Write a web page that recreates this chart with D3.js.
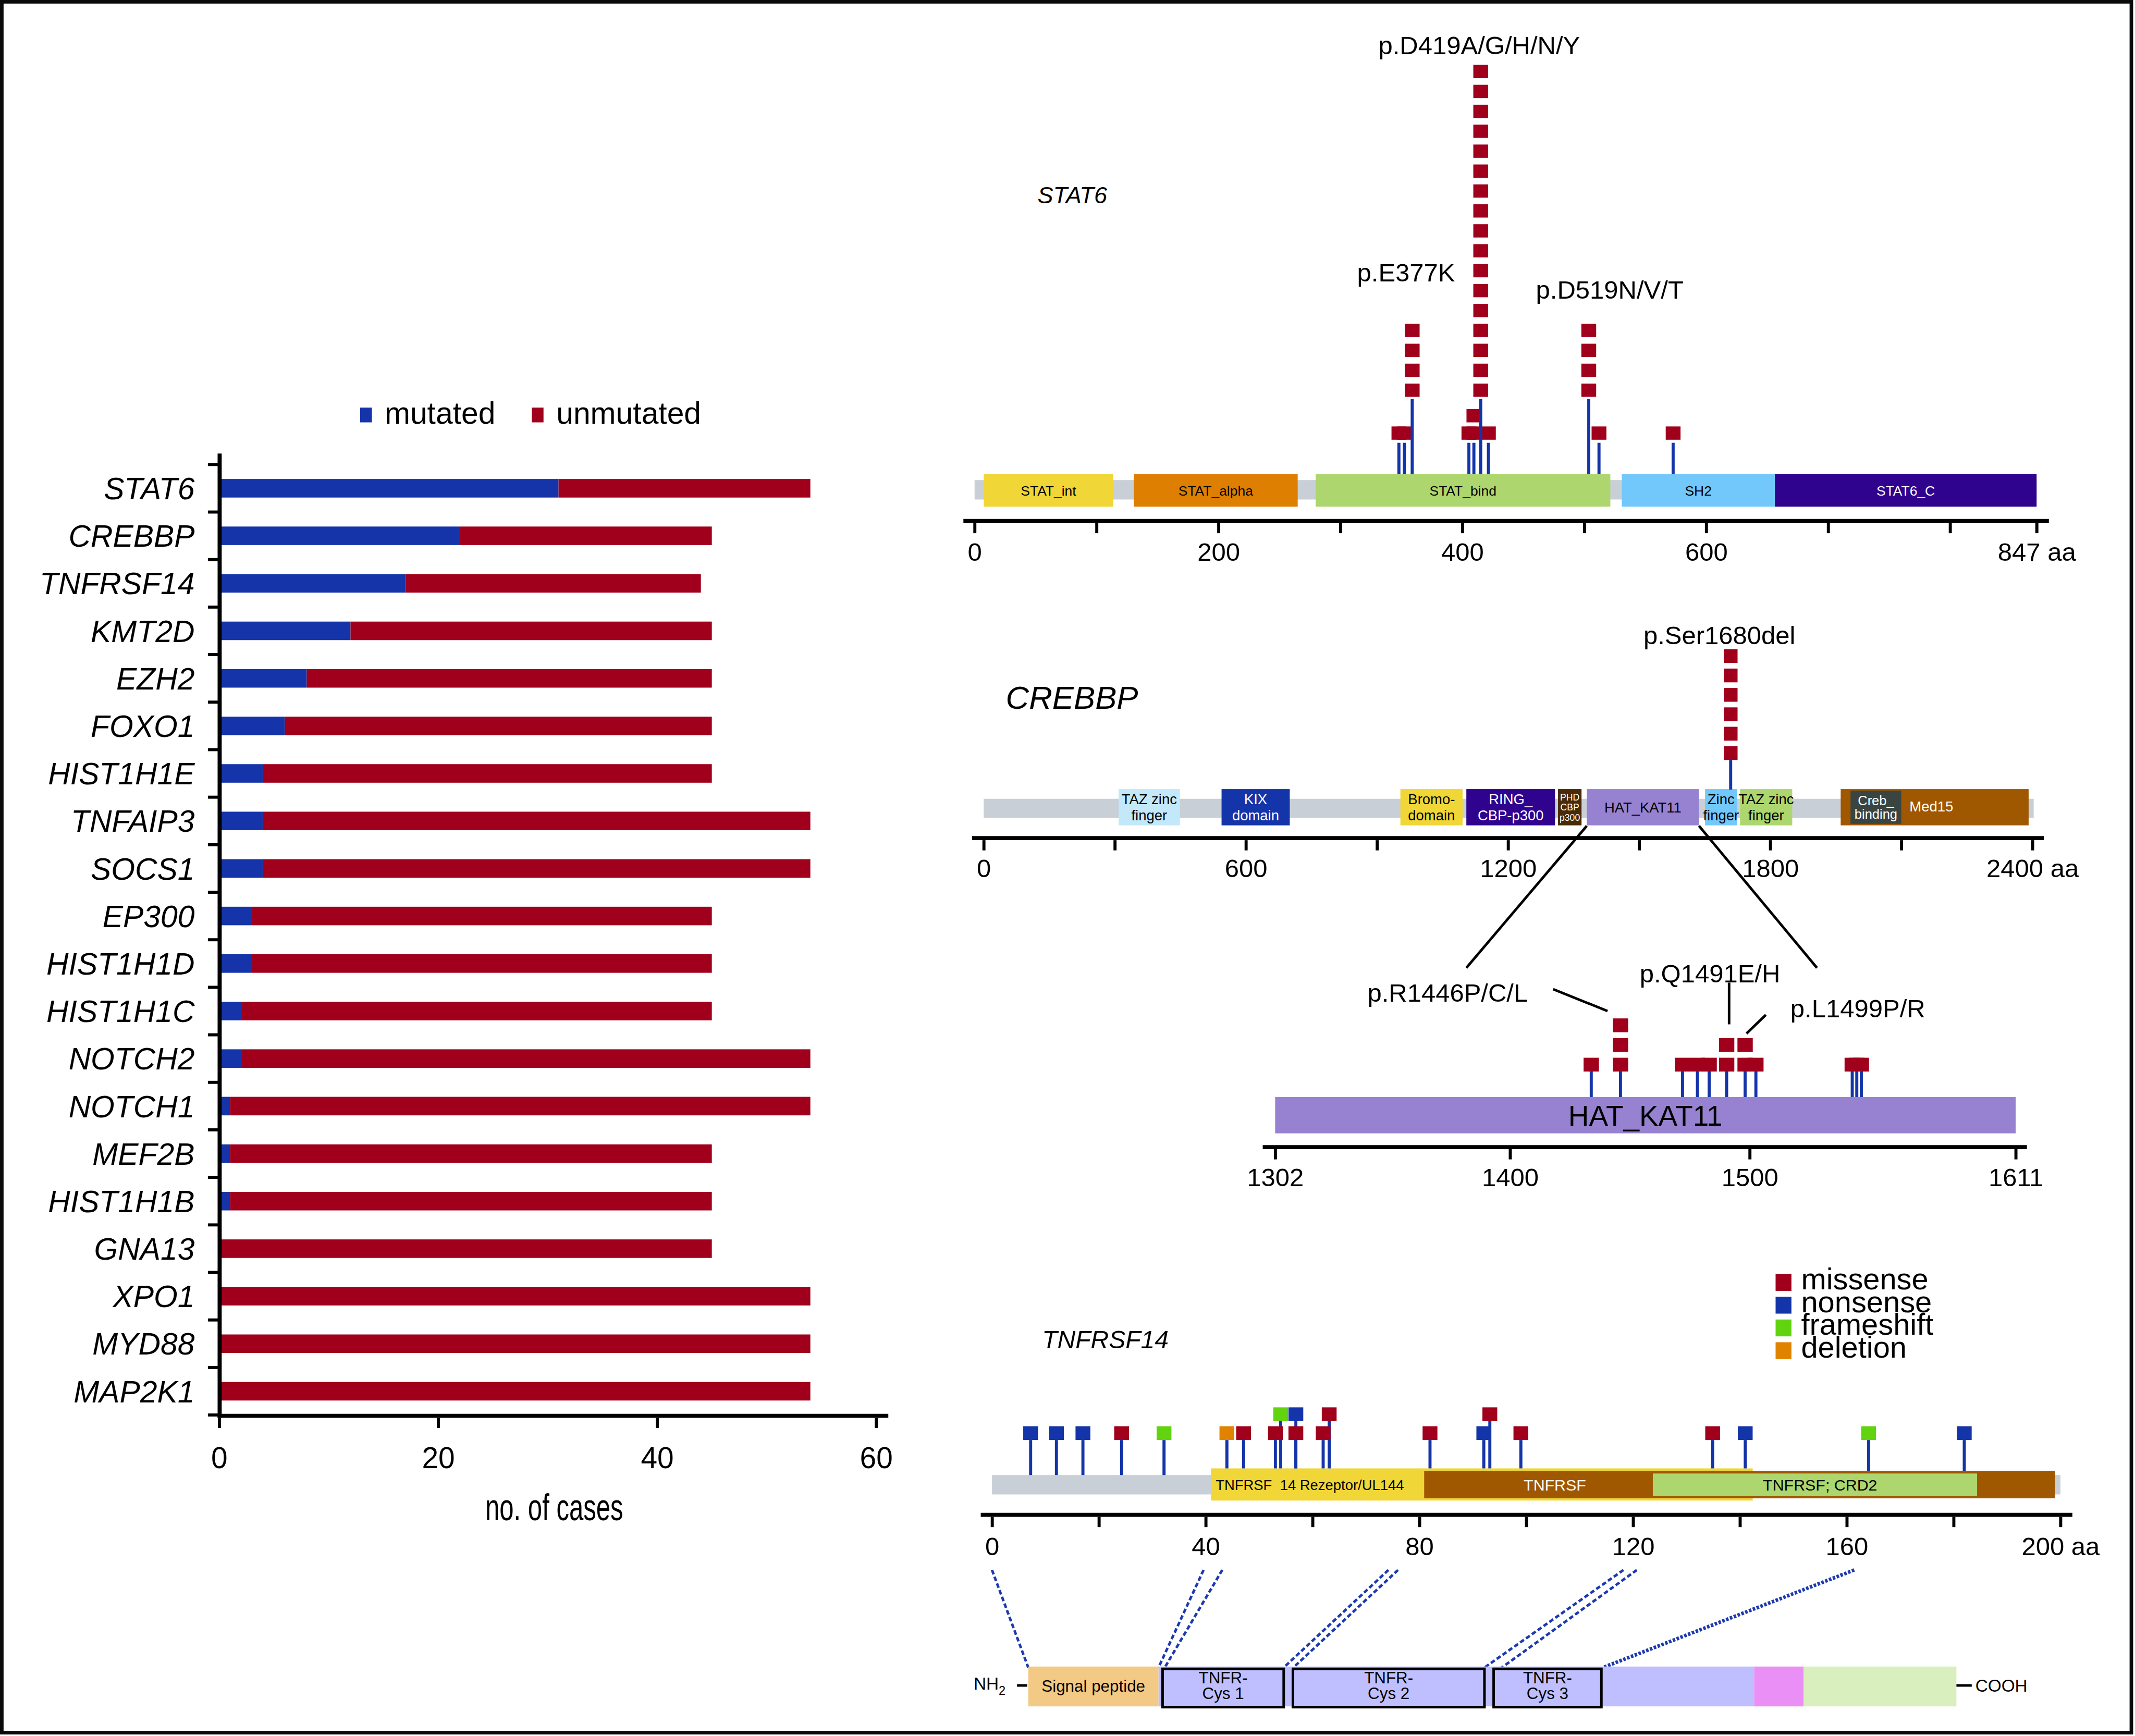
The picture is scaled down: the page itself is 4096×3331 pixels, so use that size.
<!DOCTYPE html>
<html><head><meta charset="utf-8">
<script src="https://cdn.jsdelivr.net/npm/d3@7"></script>
<style>html,body{margin:0;padding:0;background:#fff}svg{display:block}</style>
</head><body><svg id="chart" width="4096" height="3331"></svg>
<script>
// ================= DATA =================
const genes = ["STAT6","CREBBP","TNFRSF14","KMT2D","EZH2","FOXO1","HIST1H1E","TNFAIP3","SOCS1","EP300","HIST1H1D","HIST1H1C","NOTCH2","NOTCH1","MEF2B","HIST1H1B","GNA13","XPO1","MYD88","MAP2K1"];
const mutatedCases   = [31,22,17,12,8,6,4,4,4,3,3,2,2,1,1,1,0,0,0,0];
const unmutatedCases = [23,23,27,33,37,39,41,50,50,42,42,43,52,53,44,44,45,54,54,54];
const caseTicks = [0,20,40,60];
const barSeries = ["mutated","unmutated"];

// STAT6
const stat6DomainNames = ["STAT_int","STAT_alpha","STAT_bind","SH2","STAT6_C"];
const stat6DomainStart = [7.5,130.5,279.7,530.8,656.3];
const stat6DomainEnd   = [113.7,265,521.4,656.3,871];
const stat6AxisEnd = 871;
const stat6Ticks = [0,100,200,300,400,500,600,700,800,871];
const stat6TickLabels = ["0","","200","","400","","600","","","847 aa"];
const stat6MutPos   = [348,352.5,358.9,405.4,409.5,415.1,421.4,503.7,512.1,572.9];
const stat6MutCount = [1,1,4,1,2,17,1,4,1,1];
const stat6Hotspot  = [0,0,1,0,0,1,0,1,0,0];
const stat6HotLabels = ["p.E377K","p.D419A/G/H/N/Y","p.D519N/V/T"];

// CREBBP
const crebbpLength = 2403;
const crebbpDomainLabels = [["TAZ zinc","finger"],["KIX","domain"],["Bromo-","domain"],["RING_","CBP-p300"],["PHD","CBP","p300"],["HAT_KAT11"],["Zinc","finger"],["TAZ zinc","finger"],["Med15"],["Creb_","binding"]];
const crebbpDomainStart = [308.7,544.4,953.7,1104.6,1314.4,1380.3,1650.9,1731,1961.3,1983.8];
const crebbpDomainEnd   = [449,700.5,1096,1307.5,1368.2,1637,1724,1850.4,2391.4,2100];
const crebbpTicks = [0,300,600,900,1200,1500,1800,2100,2400];
const crebbpTickLabels = ["0","","600","","1200","","1800","","2400 aa"];
const crebbpMutPos = [1709.5];
const crebbpMutCount = [6];
const crebbpMutLabel = ["p.Ser1680del"];

// HAT_KAT11 detail
const hatRange = [1302,1611];
const hatTicks = [1302,1400,1500,1611];
const hatMutPos   = [1433.9,1446.1,1472,1478.2,1483.1,1490.4,1498.1,1502.6,1542.8,1544.7,1546.6];
const hatMutCount = [1,3,1,1,1,2,2,1,1,1,1];
const hatMutLabels = ["p.R1446P/C/L","p.Q1491E/H","p.L1499P/R"];

// TNFRSF14
const tnfLength = 200;
const tnfDomainNames = ["TNFRSF  14 Rezeptor/UL144","TNFRSF","TNFRSF; CRD2"];
const tnfDomainStart = [41,80.9,123.7];
const tnfDomainEnd   = [142.4,199,184.4];
const tnfTicks = [0,20,40,60,80,100,120,140,160,180,200];
const tnfTickLabels = ["0","","40","","80","","120","","160","","200 aa"];
const mutTypes = ["missense","nonsense","frameshift","deletion"];
const tnfMutPos   = [7.23,12.06,17.02,24.26,32.2,43.97,47.09,53.05,54.04,56.88,56.88,61.99,63.12,81.99,92.06,93.19,99.0,134.9,141.0,164.1,182.0];
const tnfMutType  = ["nonsense","nonsense","nonsense","missense","frameshift","deletion","missense","missense","frameshift","missense","nonsense","missense","missense","missense","nonsense","missense","missense","missense","nonsense","frameshift","nonsense"];
const tnfMutStack = [1,1,1,1,1,1,1,1,2,1,2,1,2,1,1,2,1,1,1,1,1];

// TNFRSF14 protein schematic (percent of drawn length)
const schemNames = [["Signal peptide"],[],["TNFR-","Cys 1"],["TNFR-","Cys 2"],["TNFR-","Cys 3"],[],[]];
const schemStart = [0,14.03,14.47,28.51,50.14,78.21,83.54];
const schemEnd   = [14.03,78.21,27.52,49.15,61.75,83.54,100];
const linkFromAA  = [0,39.6,43.1,74.2,76,118.2,120.7,161.4];
const linkToPct   = [0,14.03,14.7,27.52,28.56,49.15,51.02,61.9];

// ================= DRAWING =================
const S = 0.98;
const FONT = "'Liberation Sans', Arial, Helvetica, sans-serif";
const BLUE = "#1634A9", RED = "#A0001B", STEM = "#1434A9", BACK = "#C9CFD6";
const svg = d3.select("#chart");
const root = svg.append("g").attr("transform", `scale(${S})`);

function addText(p, x, y, s, size, o = {}) {
  const t = p.append("text").attr("x", x).attr("y", y).text(s)
    .attr("font-family", FONT).attr("font-size", size)
    .attr("fill", o.fill || "#000").attr("text-anchor", o.anchor || "start");
  if (o.italic) t.attr("font-style", "italic");
  if (o.pre) t.style("white-space", "pre");
  return t;
}
function hline(p, x1, x2, y, w, c = "#000") {
  return p.append("line").attr("x1", x1).attr("x2", x2).attr("y1", y).attr("y2", y).attr("stroke", c).attr("stroke-width", w);
}
function seg(p, x1, y1, x2, y2, w, c = "#000") {
  return p.append("line").attr("x1", x1).attr("x2", x2).attr("y1", y1).attr("y2", y2).attr("stroke", c).attr("stroke-width", w);
}
function drawAxis(p, scale, vals, labels, yLine, x0, x1, pad, fs = 50) {
  hline(p, x0, x1, yLine, 8);
  const lab = new Map(vals.map((v, i) => [v, labels[i]]));
  const ax = d3.axisBottom(scale).tickValues(vals).tickFormat(d => lab.get(d))
    .tickSize(20).tickSizeOuter(0).tickPadding(pad);
  const a = p.append("g").attr("transform", `translate(0,${yLine + 4})`).call(ax);
  a.select(".domain").remove();
  a.selectAll(".tick line").attr("stroke", "#000").attr("stroke-width", 6);
  a.selectAll(".tick text").attr("font-family", FONT).attr("font-size", fs).attr("fill", "#000");
  return a;
}
function multiLine(p, cx, cy, lines, size, fill, ls) {
  const first = cy - (lines.length - 1) * ls / 2 + 0.36 * size;
  lines.forEach((l, i) => addText(p, cx, first + i * ls, l, size, { anchor: "middle", fill }));
}

// frame
root.append("rect").attr("x", 3.5).attr("y", 3.5).attr("width", 4169).attr("height", 3389)
  .attr("fill", "none").attr("stroke", "#0a0a0a").attr("stroke-width", 7);

// ---------- Bar chart ----------
{
  const g = root.append("g");
  const x = d3.scaleLinear().domain([0, 60]).range([429, 1715]);
  const y = d3.scaleBand().domain(genes).range([909.5, 2770.5]).paddingInner(0.61).paddingOuter(0.305);
  const rows = genes.map((gn, i) => ({ gene: gn, mutated: mutatedCases[i], unmutated: unmutatedCases[i] }));
  const stacked = d3.stack().keys(barSeries)(rows);
  const col = { mutated: BLUE, unmutated: RED };
  stacked.forEach(layer => {
    g.append("g").attr("fill", col[layer.key]).selectAll("rect").data(layer).join("rect")
      .attr("x", d => x(d[0])).attr("width", d => x(d[1]) - x(d[0]))
      .attr("y", d => y(d.data.gene)).attr("height", y.bandwidth());
  });
  // y axis
  seg(g, 430, 888, 430, 2776, 8);
  const step = y.step(), off = (step - y.bandwidth()) / 2;
  const bounds = genes.map(gn => y(gn) - off).concat([y(genes[genes.length - 1]) + y.bandwidth() + off]);
  bounds.forEach(b => hline(g, 407, 430, b, 6));
  genes.forEach(gn => addText(g, 381, y(gn) + y.bandwidth() / 2 + 21.6, gn, 60, { anchor: "end", italic: true }));
  // x axis
  drawAxis(g, x, caseTicks, caseTicks.map(String), 2772, 426, 1739, 37.5, 58);
  addText(g, 1085, 2977, "no. of cases", 74, { anchor: "middle" })
    .attr("textLength", 270).attr("lengthAdjust", "spacingAndGlyphs");
  // legend
  const lx = [705, 1041];
  barSeries.forEach((s, i) => {
    g.append("rect").attr("x", lx[i]).attr("y", 798).attr("width", 23).attr("height", 29).attr("fill", col[s]);
    addText(g, lx[i] + 48, 830, s, 60);
  });
}

// ---------- STAT6 ----------
{
  const g = root.append("g");
  const x = d3.scaleLinear().domain([0, stat6AxisEnd]).range([1907.9, 1907.9 + stat6AxisEnd * 2.387]);
  addText(g, 2031, 398, "STAT6", 46, { italic: true });
  g.append("rect").attr("x", x(0)).attr("width", x(stat6AxisEnd) - x(0)).attr("y", 940).attr("height", 38).attr("fill", BACK);
  const cols = ["#F0D637", "#DE7F02", "#ADD76E", "#72C8FB", "#30038F"];
  const tcol = ["#000", "#000", "#000", "#000", "#fff"];
  stat6DomainNames.forEach((n, i) => {
    g.append("rect").attr("x", x(stat6DomainStart[i])).attr("width", x(stat6DomainEnd[i]) - x(stat6DomainStart[i]))
      .attr("y", 928).attr("height", 64).attr("fill", cols[i]);
    addText(g, (x(stat6DomainStart[i]) + x(stat6DomainEnd[i])) / 2, 970, n, 27, { anchor: "middle", fill: tcol[i] });
  });
  drawAxis(g, x, stat6Ticks, stat6TickLabels, 1020, 1886, 4011, 18.5);
  // squares
  const sq = g.append("g").attr("fill", RED);
  stat6MutPos.forEach((p, i) => {
    const hot = stat6Hotspot[i];
    for (let j = 0; j < stat6MutCount[i]; j++) {
      const top = hot ? 751 - j * 39 : 835 - j * 34;
      sq.append("rect").attr("x", x(p) - 14.5).attr("y", top).attr("width", 29).attr("height", 26);
    }
  });
  stat6MutPos.forEach((p, i) => {
    const hot = stat6Hotspot[i];
    seg(g, x(p), hot ? 781 : 867, x(p), 928, 6, STEM);
  });
  const offs = [[-12, -83], [-3, -21], [41, -49]];
  let k = 0;
  stat6MutPos.forEach((p, i) => {
    if (!stat6Hotspot[i]) return;
    const top = 751 - (stat6MutCount[i] - 1) * 39;
    addText(g, x(p) + offs[k][0], top + offs[k][1], stat6HotLabels[k], 50, { anchor: "middle" });
    k++;
  });
}

// ---------- CREBBP ----------
const xCreb = d3.scaleLinear().domain([0, 2400]).range([1925.7, 3978.7]);
{
  const g = root.append("g");
  const x = xCreb;
  addText(g, 1969, 1388, "CREBBP", 63, { italic: true });
  g.append("rect").attr("x", x(0)).attr("width", x(crebbpLength) - x(0)).attr("y", 1564).attr("height", 37).attr("fill", BACK);
  const cols = ["#C2E8FA", "#1434A9", "#F0D637", "#30038F", "#4A2A06", "#9782D2", "#72C8FB", "#ADD76E", "#A05800", "#3A4542"];
  const tcol = ["#000", "#fff", "#000", "#fff", "#fff", "#000", "#000", "#000", "#fff", "#fff"];
  const fs = [28, 28, 28, 28, 18, 28, 28, 28, 28, 26];
  crebbpDomainLabels.forEach((lines, i) => {
    const x0 = x(crebbpDomainStart[i]), x1 = x(crebbpDomainEnd[i]);
    const inset = i === 9;
    g.append("rect").attr("x", x0).attr("width", x1 - x0).attr("y", inset ? 1548 : 1545).attr("height", inset ? 65 : 71).attr("fill", cols[i]);
    if (lines[0] === "Med15") {
      addText(g, x(crebbpDomainEnd[9]) + 16, 1589, lines[0], 28, { fill: tcol[i] });
    } else {
      multiLine(g, (x0 + x1) / 2, 1580.5, lines, fs[i], tcol[i], fs[i] === 18 ? 20 : (i === 9 ? 26 : 32));
    }
  });
  drawAxis(g, x, crebbpTicks, crebbpTickLabels, 1641, 1903, 4001, 16.5);
  crebbpMutPos.forEach((p, i) => {
    seg(g, x(p), 1488, x(p), 1546, 6, STEM);
    for (let j = 0; j < crebbpMutCount[i]; j++)
      g.append("rect").attr("x", x(p) - 13.5).attr("y", 1461 - j * 38).attr("width", 27).attr("height", 27).attr("fill", RED);
    const top = 1461 - (crebbpMutCount[i] - 1) * 38;
    addText(g, x(p) - 22, top - 10, crebbpMutLabel[i], 50, { anchor: "middle" });
  });
}

// ---------- HAT_KAT11 detail ----------
{
  const g = root.append("g");
  const x = d3.scaleLinear().domain(hatRange).range([2496.3, 3946]);
  // zoom lines
  seg(g, xCreb(1380.3), 1617, 2870.6, 1895, 5);
  seg(g, xCreb(1637), 1617, 3557, 1895, 5);
  g.append("rect").attr("x", x(hatRange[0])).attr("width", x(hatRange[1]) - x(hatRange[0])).attr("y", 2148).attr("height", 71).attr("fill", "#9782D2");
  addText(g, (x(hatRange[0]) + x(hatRange[1])) / 2, 2204, "HAT_KAT11", 56, { anchor: "middle" });
  drawAxis(g, x, hatTicks, hatTicks.map(String), 2246, 2472, 3968, 16.5);
  hatMutPos.forEach((p, i) => seg(g, x(p), 2098, x(p), 2148, 6, STEM));
  hatMutPos.forEach((p, i) => {
    for (let j = 0; j < hatMutCount[i]; j++)
      g.append("rect").attr("x", x(p) - 15).attr("y", 2071 - j * 38.5).attr("width", 30).attr("height", 27).attr("fill", RED);
  });
  // annotations
  const ann = [
    { lab: 0, tx: 2834, ty: 1961, l: [3040.5, 1936.7, 3147, 1979.6] },
    { lab: 1, tx: 3347.5, ty: 1923, l: [3385, 1924, 3385, 2005.6] },
    { lab: 2, tx: 3637, ty: 1992, l: [3457, 1987, 3419, 2023.6] }
  ];
  ann.forEach(a => {
    addText(g, a.tx, a.ty, hatMutLabels[a.lab], 50, { anchor: "middle" });
    seg(g, a.l[0], a.l[1], a.l[2], a.l[3], 5);
  });
}

// ---------- TNFRSF14 ----------
const xTnf = d3.scaleLinear().domain([0, tnfLength]).range([1942, 4033.6]);
{
  const g = root.append("g");
  const x = xTnf;
  addText(g, 2040, 2640, "TNFRSF14", 49, { italic: true });
  const mcol = { missense: "#A0001B", nonsense: "#1434A9", frameshift: "#62D30F", deletion: "#E08300" };
  // legend
  mutTypes.forEach((t, i) => {
    const top = 2494.5 + i * 44.5;
    g.append("rect").attr("x", 3476).attr("y", top).attr("width", 31).attr("height", 33).attr("fill", mcol[t]);
    addText(g, 3526, top + 30, t, 59);
  });
  g.append("rect").attr("x", x(0)).attr("width", x(tnfLength) - x(0)).attr("y", 2888).attr("height", 38).attr("fill", BACK);
  const cols = ["#F0D637", "#A05800", "#ADD76E"];
  const ys = [[2875, 63], [2880, 53.5], [2885, 44]];
  tnfDomainNames.forEach((n, i) => {
    g.append("rect").attr("x", x(tnfDomainStart[i])).attr("width", x(tnfDomainEnd[i]) - x(tnfDomainStart[i]))
      .attr("y", ys[i][0]).attr("height", ys[i][1]).attr("fill", cols[i]);
  });
  addText(g, x(tnfDomainStart[0]) + 9, 2917, tnfDomainNames[0], 28, { pre: true });
  addText(g, (x(tnfDomainStart[1]) + x(tnfDomainStart[2])) / 2 + 32, 2918, tnfDomainNames[1], 31, { anchor: "middle", fill: "#fff" });
  addText(g, (x(tnfDomainStart[2]) + x(tnfDomainEnd[2])) / 2 + 10, 2918, tnfDomainNames[2], 31, { anchor: "middle" });
  drawAxis(g, x, tnfTicks, tnfTickLabels, 2966, 1920, 4057, 19);
  // stems then squares
  const stemBottom = p => (p >= tnfDomainStart[0] && p <= tnfDomainEnd[0]) ? 2875 :
    (p >= tnfDomainStart[1] && p <= tnfDomainEnd[1]) ? 2880 : 2888;
  tnfMutPos.forEach((p, i) => {
    const top = 2792.5 - (tnfMutStack[i] - 1) * 37;
    seg(g, x(p), top + 27, x(p), stemBottom(p), 6, STEM);
  });
  tnfMutPos.forEach((p, i) => {
    const top = 2792.5 - (tnfMutStack[i] - 1) * 37;
    g.append("rect").attr("x", x(p) - 14.5).attr("y", top).attr("width", 29).attr("height", 27).attr("fill", mcol[tnfMutType[i]]);
  });
}

// ---------- Schematic ----------
{
  const g = root.append("g");
  const sx = d3.scaleLinear().domain([0, 100]).range([2013, 3830]);
  linkFromAA.forEach((a, i) => {
    seg(g, xTnf(a), 3074, sx(linkToPct[i]), 3265, i === 7 ? 7 : 5, "#1C3AB0").attr("stroke-dasharray", i === 7 ? "5 3" : "9 5");
  });
  const fills = ["#F2C985", "#BFBFFF", "#BFBFFF", "#BFBFFF", "#BFBFFF", "#E98FF5", "#D9EFBD"];
  const order = [1, 0, 5, 6, 2, 3, 4];
  order.forEach(i => {
    const box = i >= 2 && i <= 4;
    const r = g.append("rect").attr("x", sx(schemStart[i])).attr("width", sx(schemEnd[i]) - sx(schemStart[i]))
      .attr("fill", fills[i]);
    if (box) r.attr("y", 3267.5).attr("height", 75).attr("stroke", "#000").attr("stroke-width", 5);
    else r.attr("y", 3263).attr("height", 78);
  });
  addText(g, (sx(schemStart[0]) + sx(schemEnd[0])) / 2, 3312, schemNames[0][0], 32, { anchor: "middle" });
  [2, 3, 4].forEach(i => {
    const cx = (sx(schemStart[i]) + sx(schemEnd[i])) / 2;
    addText(g, cx, 3296, schemNames[i][0], 32, { anchor: "middle" });
    addText(g, cx, 3327, schemNames[i][1], 32, { anchor: "middle" });
  });
  const nh = addText(g, 1906, 3308, "NH", 34);
  nh.append("tspan").attr("font-size", 24).attr("dy", 10).text("2");
  hline(g, 1991, 2011, 3300, 5);
  hline(g, 3830, 3860, 3300, 5);
  addText(g, 3867, 3312, "COOH", 34);
}
</script></body></html>
